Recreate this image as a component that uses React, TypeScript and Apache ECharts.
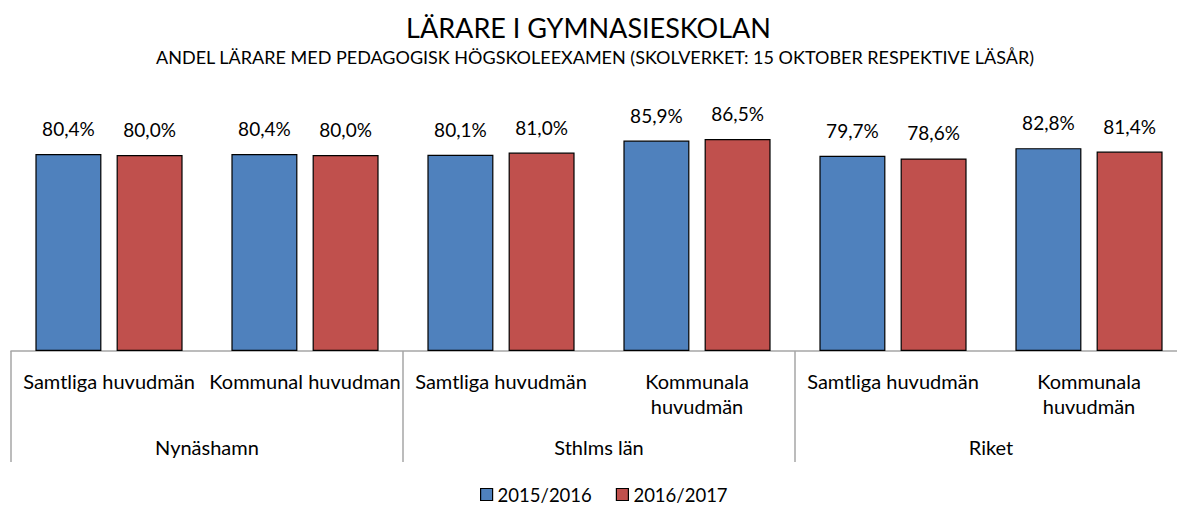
import React, { useEffect, useRef } from "react";
import * as echarts from "echarts";

const subCategories = [
  "Samtliga huvudmän",
  "Kommunal huvudman",
  "Samtliga huvudmän",
  "Kommunala\nhuvudmän",
  "Samtliga huvudmän",
  "Kommunala\nhuvudmän",
];
const groups = ["Nynäshamn", "Sthlms län", "Riket"];
const series2015 = [80.4, 80.4, 80.1, 85.9, 79.7, 82.8];
const series2016 = [80.0, 80.0, 81.0, 86.5, 78.6, 81.4];
const seriesNames = ["2015/2016", "2016/2017"];

const FONT = "Lato";

export default function App() {
  const ref = useRef<HTMLDivElement>(null);
  useEffect(() => {
    document.body.style.margin = "0";
    const chart = echarts.init(ref.current!, undefined, { renderer: "svg" });
    const fmt = (p: any) => p.value.toFixed(1).replace(".", ",") + "%";
    chart.setOption({
      animation: false,
      textStyle: { fontFamily: FONT },
      title: [
        {
          text: "LÄRARE I GYMNASIESKOLAN",
          left: 588.5,
          textAlign: "center",
          top: 12,
          padding: 0,
          textStyle: { fontFamily: FONT, fontSize: 27, lineHeight: 30, fontWeight: "normal", color: "#000" },
        },
        {
          text: "ANDEL LÄRARE MED PEDAGOGISK HÖGSKOLEEXAMEN (SKOLVERKET: 15 OKTOBER RESPEKTIVE LÄSÅR)",
          left: 595,
          textAlign: "center",
          top: 46,
          padding: 0,
          textStyle: { fontFamily: FONT, fontSize: 18, lineHeight: 22, fontWeight: "normal", color: "#000" },
        },
      ],
      legend: {
        top: 485,
        left: 480,
        padding: 0,
        icon: "rect",
        itemWidth: 12,
        itemHeight: 12,
        itemGap: 24,
        itemStyle: { borderColor: "#000", borderWidth: 1.2 },
        textStyle: { fontFamily: FONT, fontSize: 18.5, color: "#000" },
        data: seriesNames,
      },
      grid: { left: 11, right: 0, top: 106, bottom: 154, containLabel: false },
      xAxis: [
        {
          type: "category",
          data: subCategories,
          position: "bottom",
          axisLine: { show: true, lineStyle: { color: "#a6a6a6", width: 1.5 } },
          axisTick: { show: false },
          axisLabel: {
            interval: 0,
            margin: 17,
            fontFamily: FONT,
            fontSize: 20,
            lineHeight: 25,
            color: "#000",
          },
        },
        {
          type: "category",
          data: groups,
          position: "bottom",
          axisLine: { show: false },
          axisTick: { show: true, length: 111, inside: false, lineStyle: { color: "#a6a6a6", width: 1.5 } },
          axisLabel: {
            interval: 0,
            margin: 83,
            fontFamily: FONT,
            fontSize: 20,
            lineHeight: 25,
            color: "#000",
          },
        },
      ],
      yAxis: { type: "value", min: 0, max: 100, show: false, splitLine: { show: false } },
      series: [
        {
          name: seriesNames[0],
          type: "bar",
          data: series2015,
          barWidth: 66,
          barGap: "23%",
          itemStyle: { color: "#4f81bd", borderColor: "#000", borderWidth: 1.2 },
          label: { show: true, position: "top", distance: 16, formatter: fmt, fontFamily: FONT, fontSize: 19, color: "#000" },
        },
        {
          name: seriesNames[1],
          type: "bar",
          data: series2016,
          barWidth: 66,
          barGap: "23%",
          itemStyle: { color: "#c0504d", borderColor: "#000", borderWidth: 1.2 },
          label: { show: true, position: "top", distance: 16, formatter: fmt, fontFamily: FONT, fontSize: 19, color: "#000" },
        },
      ],
    });
    return () => chart.dispose();
  }, []);
  return (
    <div style={{ width: 1177, height: 505, overflow: "hidden", position: "relative" }}>
      <div ref={ref} style={{ width: 1187, height: 505 }} />
    </div>
  );
}
